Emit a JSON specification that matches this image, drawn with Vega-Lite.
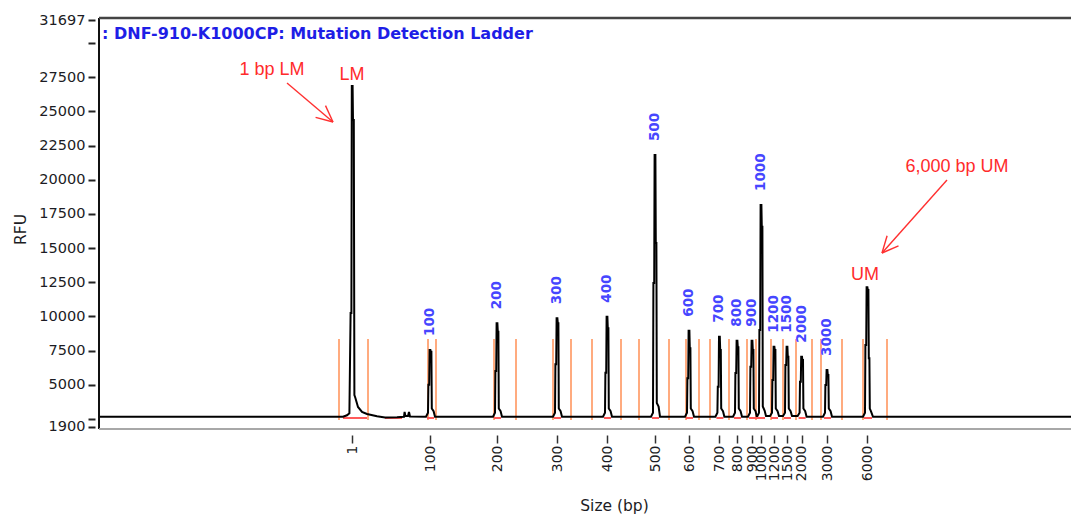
{
  "$schema": "https://vega.github.io/schema/vega-lite/v6.json",
  "autosize": "none",
  "width": 972,
  "height": 411,
  "padding": {"left": 99, "top": 18, "right": 0, "bottom": 88},
  "background": "white",
  "config": {
    "view": {"stroke": null},
    "axisX": {
      "labelFont": "DejaVu Sans", "labelFontSize": 14, "labelColor": "#1c1c24",
      "titleFont": "DejaVu Sans", "titleFontSize": 15.5, "titleFontWeight": "normal", "titleColor": "#1c1c24",
      "tickColor": "#333333", "tickWidth": 1.5, "tickSize": 8, "domain": false, "grid": false
    },
    "axisY": {
      "labelFont": "DejaVu Sans", "labelFontSize": 14.5, "labelColor": "#1c1c24",
      "titleFont": "DejaVu Sans", "titleFontSize": 15.5, "titleFontWeight": "normal", "titleColor": "#1c1c24",
      "tickColor": "#222222", "tickWidth": 2, "tickSize": 7, "domain": false, "grid": false
    }
  },
  "datasets": {
    "trace": [
      {"t":0,"rfu":2650},{"t":12.2,"rfu":2650},{"t":12.4,"rfu":2760},{"t":12.52,"rfu":2900},{"t":12.58,"rfu":10245},{"t":12.62,"rfu":10245},{"t":12.64,"rfu":26864},{"t":12.68,"rfu":26864},{"t":12.7,"rfu":24375},{"t":12.74,"rfu":24375},{"t":12.77,"rfu":4242},{"t":12.82,"rfu":4022},{"t":12.95,"rfu":3364},{"t":13.15,"rfu":2998},{"t":13.4,"rfu":2851},{"t":13.9,"rfu":2680},{"t":14.3,"rfu":2600},{"t":14.9,"rfu":2620},{"t":15.25,"rfu":2650},{"t":15.28,"rfu":3000},{"t":15.32,"rfu":2700},{"t":15.45,"rfu":2700},{"t":15.5,"rfu":3000},{"t":15.55,"rfu":2670},
      {"t":16.35,"rfu":2650},{"t":16.45,"rfu":2950},{"t":16.47,"rfu":5000},{"t":16.51,"rfu":5000},{"t":16.53,"rfu":7537},{"t":16.57,"rfu":7537},{"t":16.59,"rfu":7400},{"t":16.62,"rfu":7400},{"t":16.64,"rfu":3250},{"t":16.73,"rfu":3050},{"t":16.8,"rfu":2650},
      {"t":19.7,"rfu":2650},{"t":19.8,"rfu":2950},{"t":19.82,"rfu":6000},{"t":19.86,"rfu":6000},{"t":19.88,"rfu":9491},{"t":19.92,"rfu":9491},{"t":19.94,"rfu":8876},{"t":19.97,"rfu":8876},{"t":19.99,"rfu":3250},{"t":20.08,"rfu":3050},{"t":20.15,"rfu":2650},
      {"t":22.7,"rfu":2650},{"t":22.8,"rfu":2950},{"t":22.82,"rfu":6500},{"t":22.86,"rfu":6500},{"t":22.88,"rfu":9857},{"t":22.92,"rfu":9857},{"t":22.94,"rfu":9491},{"t":22.97,"rfu":9491},{"t":22.99,"rfu":3250},{"t":23.08,"rfu":3050},{"t":23.15,"rfu":2650},
      {"t":25.2,"rfu":2650},{"t":25.3,"rfu":2950},{"t":25.32,"rfu":5875},{"t":25.36,"rfu":5875},{"t":25.38,"rfu":9974},{"t":25.42,"rfu":9974},{"t":25.44,"rfu":9125},{"t":25.47,"rfu":9125},{"t":25.49,"rfu":3250},{"t":25.58,"rfu":3050},{"t":25.65,"rfu":2650},
      {"t":27.6,"rfu":2650},{"t":27.7,"rfu":2950},{"t":27.72,"rfu":12442},{"t":27.76,"rfu":12442},{"t":27.78,"rfu":21812},{"t":27.82,"rfu":21812},{"t":27.84,"rfu":15370},{"t":27.87,"rfu":15370},{"t":27.89,"rfu":3657},{"t":27.98,"rfu":3400},{"t":28.05,"rfu":2650},
      {"t":29.3,"rfu":2650},{"t":29.4,"rfu":2950},{"t":29.42,"rfu":5465},{"t":29.46,"rfu":5465},{"t":29.48,"rfu":8950},{"t":29.52,"rfu":8950},{"t":29.54,"rfu":7661},{"t":29.57,"rfu":7661},{"t":29.59,"rfu":3250},{"t":29.68,"rfu":3050},{"t":29.75,"rfu":2650},
      {"t":30.82,"rfu":2650},{"t":30.92,"rfu":2950},{"t":30.94,"rfu":4850},{"t":30.98,"rfu":4850},{"t":31.0,"rfu":8510},{"t":31.04,"rfu":8510},{"t":31.06,"rfu":7537},{"t":31.09,"rfu":7537},{"t":31.11,"rfu":3250},{"t":31.2,"rfu":3050},{"t":31.27,"rfu":2650},
      {"t":31.7,"rfu":2650},{"t":31.8,"rfu":2950},{"t":31.82,"rfu":5853},{"t":31.86,"rfu":5853},{"t":31.88,"rfu":8218},{"t":31.92,"rfu":8218},{"t":31.94,"rfu":7730},{"t":31.97,"rfu":7730},{"t":31.99,"rfu":3250},{"t":32.08,"rfu":3050},{"t":32.15,"rfu":2650},
      {"t":32.45,"rfu":2650},{"t":32.55,"rfu":2950},{"t":32.57,"rfu":6314},{"t":32.61,"rfu":6314},{"t":32.63,"rfu":8218},{"t":32.67,"rfu":8218},{"t":32.69,"rfu":7537},{"t":32.72,"rfu":7537},{"t":32.74,"rfu":3250},{"t":32.83,"rfu":3050},{"t":32.88,"rfu":2700},
      {"t":32.92,"rfu":2700},{"t":33.0,"rfu":2950},{"t":33.02,"rfu":9001},{"t":33.06,"rfu":9001},{"t":33.08,"rfu":18152},{"t":33.12,"rfu":18152},{"t":33.14,"rfu":16563},{"t":33.17,"rfu":16563},{"t":33.19,"rfu":3400},{"t":33.28,"rfu":3100},{"t":33.35,"rfu":2700},
      {"t":33.55,"rfu":2700},{"t":33.65,"rfu":2950},{"t":33.67,"rfu":5340},{"t":33.71,"rfu":5340},{"t":33.73,"rfu":7774},{"t":33.77,"rfu":7774},{"t":33.79,"rfu":7537},{"t":33.82,"rfu":7537},{"t":33.84,"rfu":3250},{"t":33.93,"rfu":3050},{"t":34.0,"rfu":2700},
      {"t":34.2,"rfu":2700},{"t":34.3,"rfu":2950},{"t":34.32,"rfu":6438},{"t":34.36,"rfu":6438},{"t":34.38,"rfu":7774},{"t":34.42,"rfu":7774},{"t":34.44,"rfu":7046},{"t":34.47,"rfu":7046},{"t":34.49,"rfu":3250},{"t":34.58,"rfu":3050},{"t":34.65,"rfu":2700},
      {"t":34.93,"rfu":2700},{"t":35.03,"rfu":2950},{"t":35.05,"rfu":5216},{"t":35.09,"rfu":5216},{"t":35.11,"rfu":7046},{"t":35.15,"rfu":7046},{"t":35.17,"rfu":6804},{"t":35.2,"rfu":6804},{"t":35.22,"rfu":3250},{"t":35.31,"rfu":3050},{"t":35.38,"rfu":2650},
      {"t":36.2,"rfu":2650},{"t":36.3,"rfu":2950},{"t":36.32,"rfu":4974},{"t":36.36,"rfu":4974},{"t":36.38,"rfu":6072},{"t":36.42,"rfu":6072},{"t":36.44,"rfu":5706},{"t":36.47,"rfu":5706},{"t":36.49,"rfu":3250},{"t":36.58,"rfu":3050},{"t":36.65,"rfu":2650},
      {"t":38.2,"rfu":2650},{"t":38.3,"rfu":2950},{"t":38.32,"rfu":7903},{"t":38.36,"rfu":7903},{"t":38.38,"rfu":12127},{"t":38.42,"rfu":12127},{"t":38.44,"rfu":11930},{"t":38.47,"rfu":11930},{"t":38.49,"rfu":6929},{"t":38.52,"rfu":6929},{"t":38.54,"rfu":3250},{"t":38.6,"rfu":3050},{"t":38.7,"rfu":2650},
      {"t":48.6,"rfu":2650}
    ],
    "windows": [
      {"t":12.0},{"t":13.45},{"t":16.45},{"t":16.85},{"t":19.75},{"t":20.85},{"t":22.7},{"t":23.6},{"t":24.65},{"t":26.1},{"t":27.0},{"t":28.5},{"t":29.35},{"t":30.0},{"t":30.55},{"t":31.5},{"t":32.4},{"t":32.85},{"t":33.6},{"t":34.2},{"t":34.85},{"t":35.65},{"t":36.1},{"t":37.15},{"t":38.2},{"t":39.4}
    ],
    "redsegs": [
      {"t":12.2,"t2":13.4},{"t":14.3,"t2":15.15},{"t":16.4,"t2":16.75},{"t":19.75,"t2":20.1},{"t":22.75,"t2":23.1},{"t":25.25,"t2":25.6},{"t":27.65,"t2":28.0},{"t":29.35,"t2":29.7},{"t":30.87,"t2":31.22},{"t":31.75,"t2":32.1},{"t":32.5,"t2":33.3},{"t":33.6,"t2":33.95},{"t":34.25,"t2":34.6},{"t":34.98,"t2":35.33},{"t":36.25,"t2":36.6},{"t":38.25,"t2":38.65}
    ],
    "peaks": [
      {"size":"100","t":16.55,"h":7537},{"size":"200","t":19.9,"h":9491},{"size":"300","t":22.9,"h":9857},{"size":"400","t":25.4,"h":9974},{"size":"500","t":27.8,"h":21812},{"size":"600","t":29.5,"h":8950},{"size":"700","t":31.02,"h":8510},{"size":"800","t":31.9,"h":8218},{"size":"900","t":32.65,"h":8218},{"size":"1000","t":33.1,"h":18152},{"size":"1200","t":33.75,"h":7774},{"size":"1500","t":34.4,"h":7774},{"size":"2000","t":35.13,"h":7046},{"size":"3000","t":36.4,"h":6072}
    ],
    "notes": [
      {"text":"1 bp LM","t":8.65,"rfu":28035},{"text":"LM","t":12.65,"rfu":27669},{"text":"UM","t":38.3,"rfu":13027},{"text":"6,000 bp UM","t":42.9,"rfu":20934}
    ],
    "arrows": [
      {"t":9.4,"rfu":27084,"t2":11.7,"rfu2":24228},
      {"t":11.7,"rfu":24228,"t2":11.325,"rfu2":25429},
      {"t":11.7,"rfu":24228,"t2":10.83,"rfu2":24573},
      {"t":42.4,"rfu":19982,"t2":39.15,"rfu2":14638},
      {"t":39.15,"rfu":14638,"t2":39.975,"rfu2":15158},
      {"t":39.15,"rfu":14638,"t2":39.405,"rfu2":15897}
    ],
    "title": [
      {"text":": DNF-910-K1000CP: Mutation Detection Ladder","t":0.15,"rfu":30708}
    ],
    "frame": [{"t":0,"top":31844,"bottom":1753}]
  },
  "layer": [
    {
      "data": {"name": "windows"},
      "mark": {"type": "rule", "color": "#ff8f55", "strokeWidth": 1.5},
      "encoding": {
        "x": {
          "field": "t", "type": "quantitative",
          "scale": {"domain": [0, 48.6], "nice": false, "zero": false},
          "axis": {
            "orient": "bottom",
            "offset": 6,
            "tickCount": 40,
            "values": [12.65,16.55,19.9,22.9,25.4,27.8,29.5,31.02,31.9,32.65,33.1,33.75,34.4,35.13,36.4,38.4],
            "labelExpr": "['1','100','200','300','400','500','600','700','800','900','1000','1200','1500','2000','3000','6000'][indexof([12.65,16.55,19.9,22.9,25.4,27.8,29.5,31.02,31.9,32.65,33.1,33.75,34.4,35.13,36.4,38.4], datum.value)]",
            "labelAngle": 270,
            "labelAlign": "right",
            "labelBaseline": "middle",
            "labelPadding": 2,
            "labelOverlap": false,
            "labelFlush": false,
            "labelBound": false,
            "title": "Size (bp)",
            "titleX": 515,
            "titleY": 70,
            "titleAlign": "center",
            "titleBaseline": "middle"
          }
        },
        "y": {
          "datum": 2420, "type": "quantitative",
          "scale": {"domain": [1753, 31844], "nice": false, "zero": false},
          "axis": {
            "orient": "left",
            "offset": 4,
            "tickCount": 40,
            "values": [1900,2500,5000,7500,10000,12500,15000,17500,20000,22500,25000,27500,30000,31697],
            "format": "d",
            "labelExpr": "datum.value == 2500 || datum.value == 30000 ? '' : datum.label",
            "labelOverlap": false,
            "labelFlush": false,
            "labelPadding": 3,
            "title": "RFU",
            "titleAngle": 270,
            "titleX": -75,
            "titleY": 211,
            "titleAlign": "center",
            "titleBaseline": "middle"
          }
        },
        "y2": {"datum": 8340}
      }
    },
    {
      "data": {"name": "redsegs"},
      "mark": {"type": "rule", "color": "#ff5a5a", "strokeWidth": 2},
      "encoding": {
        "x": {"field": "t", "type": "quantitative"},
        "x2": {"field": "t2"},
        "y": {"datum": 2560}
      }
    },
    {
      "data": {"name": "trace"},
      "mark": {"type": "line", "color": "#000000", "strokeWidth": 2, "clip": true},
      "encoding": {
        "x": {"field": "t", "type": "quantitative"},
        "y": {"field": "rfu", "type": "quantitative"}
      }
    },
    {
      "data": {"name": "frame"},
      "mark": {"type": "rule", "color": "#111111", "strokeWidth": 2},
      "encoding": {"x": {"field": "t", "type": "quantitative"}}
    },
    {
      "data": {"name": "frame"},
      "mark": {"type": "rule", "color": "#444444", "strokeWidth": 2.5},
      "encoding": {"y": {"field": "top", "type": "quantitative"}}
    },
    {
      "data": {"name": "frame"},
      "mark": {"type": "rule", "color": "#a8a8a8", "strokeWidth": 2},
      "encoding": {"y": {"field": "bottom", "type": "quantitative"}}
    },
    {
      "data": {"name": "peaks"},
      "mark": {"type": "text", "angle": 270, "align": "left", "baseline": "middle", "dx": 14, "font": "DejaVu Sans", "fontSize": 13.5, "fontWeight": "bold", "color": "#4646ff"},
      "encoding": {
        "x": {"field": "t", "type": "quantitative"},
        "y": {"field": "h", "type": "quantitative"},
        "text": {"field": "size"}
      }
    },
    {
      "data": {"name": "arrows"},
      "mark": {"type": "rule", "color": "#ff3030", "strokeWidth": 1.4},
      "encoding": {
        "x": {"field": "t", "type": "quantitative"},
        "y": {"field": "rfu", "type": "quantitative"},
        "x2": {"field": "t2"},
        "y2": {"field": "rfu2"}
      }
    },
    {
      "data": {"name": "notes"},
      "mark": {"type": "text", "align": "center", "baseline": "middle", "font": "Liberation Sans", "fontSize": 18, "color": "#ff2b2b"},
      "encoding": {
        "x": {"field": "t", "type": "quantitative"},
        "y": {"field": "rfu", "type": "quantitative"},
        "text": {"field": "text"}
      }
    },
    {
      "data": {"name": "title"},
      "mark": {"type": "text", "align": "left", "baseline": "middle", "font": "DejaVu Sans", "fontSize": 16, "fontWeight": "bold", "color": "#1e1ee6"},
      "encoding": {
        "x": {"field": "t", "type": "quantitative"},
        "y": {"field": "rfu", "type": "quantitative"},
        "text": {"field": "text"}
      }
    }
  ]
}
